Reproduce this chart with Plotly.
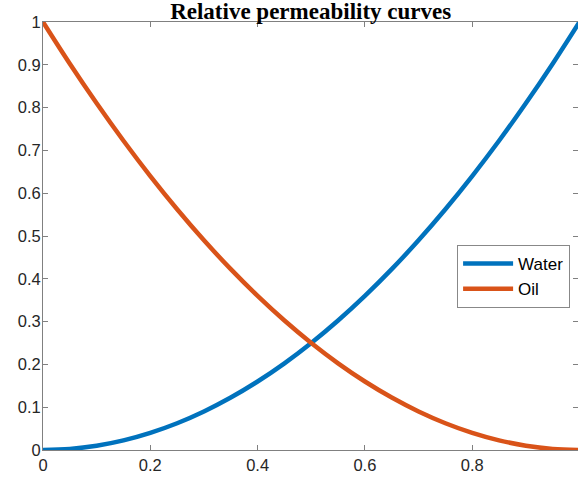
import plotly.graph_objects as go

sw = [0.0, 0.05, 0.10, 0.15, 0.20, 0.25, 0.30, 0.35, 0.40, 0.45, 0.50,
      0.55, 0.60, 0.65, 0.70, 0.75, 0.80, 0.85, 0.90, 0.95, 1.0]
krw = [0.0, 0.0025, 0.01, 0.0225, 0.04, 0.0625, 0.09, 0.1225, 0.16, 0.2025, 0.25,
       0.3025, 0.36, 0.4225, 0.49, 0.5625, 0.64, 0.7225, 0.81, 0.9025, 1.0]
kro = [1.0, 0.9025, 0.81, 0.7225, 0.64, 0.5625, 0.49, 0.4225, 0.36, 0.3025, 0.25,
       0.2025, 0.16, 0.1225, 0.09, 0.0625, 0.04, 0.0225, 0.01, 0.0025, 0.0]

x_ticks = [0, 0.2, 0.4, 0.6, 0.8]
x_tick_labels = ["0", "0.2", "0.4", "0.6", "0.8"]
y_ticks = [0, 0.1, 0.2, 0.3, 0.4, 0.5, 0.6, 0.7, 0.8, 0.9, 1.0]
y_tick_labels = ["0", "0.1", "0.2", "0.3", "0.4", "0.5", "0.6", "0.7", "0.8", "0.9", "1"]

AX = "#808080"
TXT = "#262626"
FONT = "Liberation Sans, Arial, sans-serif"

fig = go.Figure()
fig.add_trace(go.Scatter(x=sw, y=krw, mode="lines", name="Water",
                         line=dict(color="#0072BD", width=4.5, shape="spline")))
fig.add_trace(go.Scatter(x=sw, y=kro, mode="lines", name="Oil",
                         line=dict(color="#D95319", width=4.5, shape="spline")))
# empty trace to activate right-side mirror tick axis
fig.add_trace(go.Scatter(x=[], y=[], yaxis="y2", showlegend=False, hoverinfo="skip"))

fig.update_layout(
    width=578, height=478,
    margin=dict(l=43, r=0, t=22, b=28),
    paper_bgcolor="white", plot_bgcolor="white",
    title=dict(text="Relative permeability curves",
               font=dict(family="Liberation Serif, Times New Roman, serif", size=23,
                         color="black", weight="bold"),
               x=0.5375, xanchor="center", xref="container",
               y=0.977, yanchor="middle", yref="container"),
    xaxis=dict(range=[0, 0.9972], tickvals=x_ticks, ticktext=x_tick_labels,
               showgrid=False, zeroline=False, showline=True, linecolor=AX, linewidth=1,
               mirror="ticks", ticks="inside", ticklen=5, tickcolor=AX,
               tickfont=dict(family=FONT, size=16.5, color=TXT)),
    yaxis=dict(range=[0, 1], tickvals=y_ticks, ticktext=y_tick_labels,
               showgrid=False, zeroline=False, showline=True, linecolor=AX, linewidth=1,
               ticks="inside", ticklen=5, tickcolor=AX, ticklabelstandoff=-2,
               tickfont=dict(family=FONT, size=16.5, color=TXT)),
    yaxis2=dict(range=[0, 1], tickvals=y_ticks, overlaying="y", side="right",
                showticklabels=False, showgrid=False, zeroline=False, showline=False,
                ticks="inside", ticklen=5, tickcolor=AX),
    legend=dict(x=0.774, y=0.479, xanchor="left", yanchor="top",
                bordercolor="#888888", borderwidth=1, bgcolor="white",
                font=dict(family=FONT, size=17, color="black"),
                itemwidth=50, tracegroupgap=0),
    showlegend=True,
)

fig.write_html("out.html", config={"displayModeBar": False},
               post_script="document.body.style.margin='0';document.body.style.overflow='hidden';")
